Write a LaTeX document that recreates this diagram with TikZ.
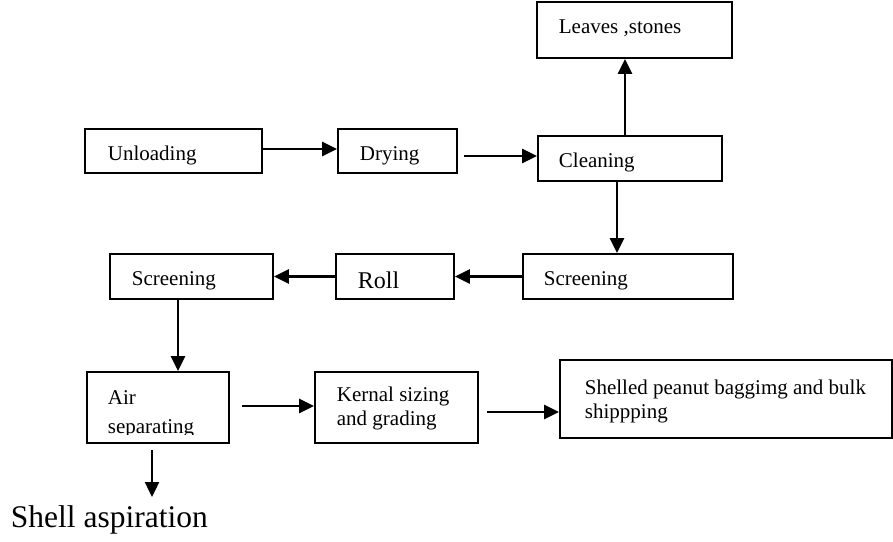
\documentclass[tikz,border=0pt]{standalone}
\usepackage{fontspec}
\setmainfont{Liberation Serif}
\usetikzlibrary{arrows.meta}
\tikzset{every picture/.style={line width=0.9pt}}
\tikzset{
  box/.style 2 args={draw, rectangle, inner sep=0pt, minimum width=#1*0.5pt, minimum height=#2*0.5pt},
  lbl/.style={anchor=base west, inner sep=0pt, align=left, font=\fontsize{10.5pt}{12pt}\selectfont},
  flow/.style={line width=1.2pt, -{Triangle[length=7.5pt,width=7pt]}}
}

\begin{document}
\begin{tikzpicture}[x=0.5pt,y=0.5pt,yscale=-1]
\useasboundingbox (0,0) rectangle (893,541);

%Shape: Rectangles
\node (leaves) [box={195}{56}] at (634.5,30) {};
\node (unload) [box={177}{44}] at (173.5,151) {};
\node (dry) [box={119}{44}] at (397.5,151) {};
\node (clean) [box={184}{45}] at (630,158.5) {};
\node (screenB) [box={163}{45}] at (191.5,276.5) {};
\node (roll) [box={118}{45}] at (395,276.5) {};
\node (screenA) [box={210}{45}] at (628,276.5) {};
\node (air) [box={142}{71}] at (158,407.5) {};
\node (kernal) [box={163}{71}] at (396.5,407.5) {};
\node (shell) [box={332}{78}] at (726,399) {};

% Text Node
\node (leavesT) [lbl] at (558,33) {Leaves ,stones};
% Text Node
\node (unloadT) [lbl] at (107,160) {Unloading};
% Text Node
\node (dryT) [lbl] at (359,160) {Drying};
% Text Node
\node (cleanT) [lbl] at (558,167) {Cleaning};
% Text Node
\node (screenBT) [lbl] at (131,285) {Screening};
% Text Node
\node (rollT) [lbl, font=\fontsize{12pt}{14pt}\selectfont] at (357,288) {Roll};
% Text Node
\node (screenAT) [lbl] at (543,285) {Screening};
% Text Node (cut off at the bottom)
\begin{scope}
\clip (air.north west) rectangle ([shift={(0,-9)}]air.south east);
\node (airT) [lbl] at (107,433) {Air\\[2.5pt]separating};
\end{scope}
% Text Node
\node (kernalT) [lbl] at (336,425) {Kernal sizing\\and grading};
% Text Node
\node (shellT) [lbl] at (584,418) {Shelled peanut baggimg and bulk\\shippping};
% Text Node
\node (aspT) [lbl, font=\fontsize{15.75pt}{18pt}\selectfont] at (10,527) {Shell aspiration};
\coordinate (aspTip) at (152,497);

%Straight Lines
\draw [flow] ([shift={(0,-2)}]unload.east) -- ([shift={(0,-2)}]dry.west);
\draw [flow] ([shift={(6,5)}]dry.east) -- ([shift={(0,-2.5)}]clean.west);
\draw [flow] ([shift={(-5,0)}]clean.north) -- ([shift={(-9.5,0)}]leaves.south);
\draw [flow] ([shift={(-13,0)}]clean.south) -- ([shift={(-11,0)}]screenA.north);
\draw [flow] (screenA.west) -- (roll.east);
\draw [flow] (roll.west) -- (screenB.east);
\draw [flow] ([shift={(-13.5,0)}]screenB.south) -- ([shift={(20,0)}]air.north);
\draw [flow] ([shift={(12,-1.5)}]air.east) -- ([shift={(0,-1.5)}]kernal.west);
\draw [flow] ([shift={(8,4.5)}]kernal.east) -- ([shift={(0,13)}]shell.west);
\draw [flow] ([shift={(-6,6)}]air.south) -- (aspTip);

\end{tikzpicture}
\end{document}
